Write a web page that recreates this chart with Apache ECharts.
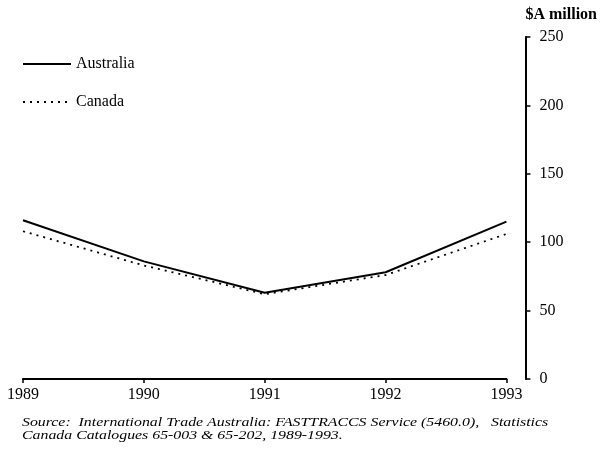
<!DOCTYPE html>
<html>
<head>
<meta charset="utf-8">
<script src="https://cdn.jsdelivr.net/npm/echarts@6/dist/echarts.min.js"></script>
<style>html,body{margin:0;padding:0;background:#fff}#c{width:600px;height:450px}</style>
</head>
<body>
<div id="c"></div>
<script>
var years = ['1989', '1990', '1991', '1992', '1993'];
var australia = [116, 86, 63, 78, 115];
var canada = [108, 83, 62, 76, 106];
var yTicks = [0, 50, 100, 150, 200, 250];
var yName = '$A million';
var sourceLines = [
  'Source:  International Trade Australia: FASTTRACCS Service (5460.0),   Statistics',
  'Canada Catalogues 65-003 & 65-202, 1989-1993.'
];

var serif = '"Liberation Serif", "Times New Roman", serif';
var chart = echarts.init(document.getElementById('c'));
chart.setOption({
  backgroundColor: '#fff',
  animation: false,
  grid: { left: 23, right: 92, top: 37, bottom: 71 },
  legend: {
    orient: 'vertical', left: 17, top: 51,
    itemWidth: 48, itemHeight: 14, itemGap: 22,
    itemStyle: { opacity: 0 },
    textStyle: { fontFamily: serif, fontSize: 16, color: '#000' },
    data: ['Australia', 'Canada']
  },
  xAxis: {
    type: 'category', data: years, boundaryGap: false,
    axisLine: { lineStyle: { color: '#000', width: 2 } },
    axisTick: { show: true, inside: false, length: 4, lineStyle: { color: '#000', width: 1.5 } },
    axisLabel: { fontFamily: serif, fontSize: 16, color: '#000', margin: 8 },
    splitLine: { show: false }
  },
  yAxis: {
    type: 'value', position: 'right', offset: 19, min: 0, max: 250, interval: 50,
    name: yName, nameLocation: 'end', nameGap: 22,
    nameTextStyle: { fontFamily: serif, fontSize: 16, fontWeight: 'bold', color: '#000', align: 'left', verticalAlign: 'middle' },
    axisLine: { show: true, lineStyle: { color: '#000', width: 2 } },
    axisTick: { show: true, inside: false, length: 5, lineStyle: { color: '#000', width: 1.5 } },
    axisLabel: { fontFamily: serif, fontSize: 16, color: '#000', margin: 14,
      formatter: function (v) { return yTicks.indexOf(v) >= 0 ? String(v) : ''; } },
    splitLine: { show: false }
  },
  series: [
    { name: 'Australia', type: 'line', data: australia, symbol: 'none',
      lineStyle: { color: '#000', width: 2, type: 'solid' }, itemStyle: { color: '#000' } },
    { name: 'Canada', type: 'line', data: canada, symbol: 'none',
      lineStyle: { color: '#000', width: 1.8, type: [2, 5] }, itemStyle: { color: '#000' } }
  ],
  graphic: [{
    type: 'text', x: 22, y: 416, scaleX: 1.32, originX: 0,
    style: { text: sourceLines.join('\n'), fontFamily: serif, fontStyle: 'italic', fontSize: 12, lineHeight: 13, fill: '#000' }
  }]
});
</script>
</body>
</html>
